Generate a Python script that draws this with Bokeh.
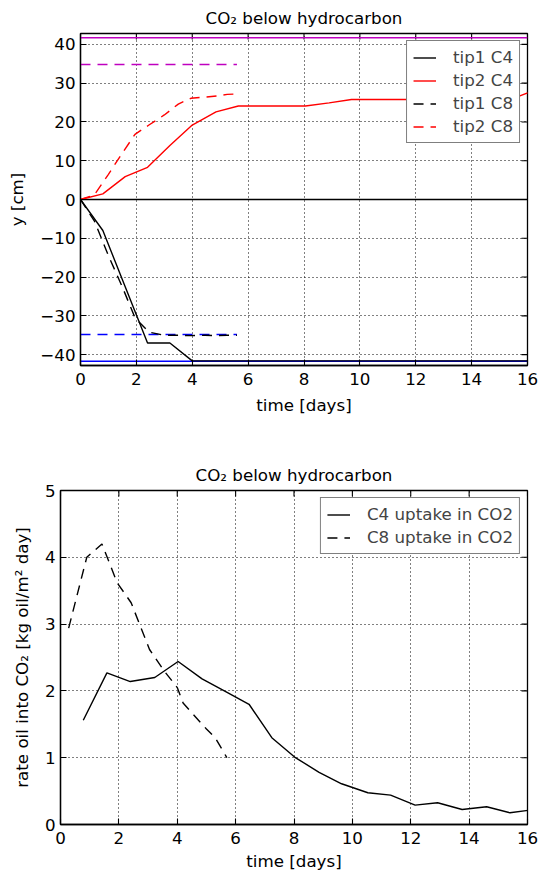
import math
from bokeh.plotting import figure
from bokeh.models import Range1d, FixedTicker, Legend, LegendItem
from bokeh.layouts import column, row
from bokeh.embed import file_html
from bokeh.resources import INLINE

# ---------------- data: top panel (tip positions) ----------------
t_c4 = [0, 0.8, 1.6, 2.4, 3.2, 4.0, 4.85, 5.65, 6.45, 7.25, 8.05, 8.9, 9.7,
        10.5, 11.3, 12.1, 12.9, 13.75, 14.6, 15.4, 16.2]
tip1_c4 = [0, -8.0, -22.5, -37.0, -37.0, -41.6, -41.6, -41.6, -41.6, -41.6, -41.6,
           -41.6, -41.6, -41.6, -41.6, -41.6, -41.6, -41.6, -41.6, -41.6, -41.6]
tip2_c4 = [0, 1.45, 5.9, 8.3, 13.9, 19.2, 22.6, 24.1, 24.1, 24.1, 24.1, 24.9, 25.8,
           25.8, 25.8, 25.8, 25.8, 25.8, 25.8, 25.8, 28.0]

t_c8 = [0, 0.5, 1.0, 1.5, 1.95, 2.45, 3.0, 3.5, 3.95, 4.45, 4.9, 5.25, 5.6]
tip1_c8 = [0, -5.6, -14.5, -22.6, -30.5, -34.2, -35.0, -35.0, -35.1, -35.0, -35.1, -35.0, -35.0]
tip2_c8 = [0, 1.2, 6.5, 12.0, 16.8, 19.2, 21.8, 24.6, 26.1, 26.4, 26.7, 27.1, 27.2]

# reference levels (top/bottom boundaries of domain and of C8 run)
full_x = [0, 16]
c8_x = [0, 5.6]
bound_c4 = 41.7
bound_c8 = 34.8

# ---------------- data: bottom panel (uptake rate) ----------------
t_rate_c4 = [0.78, 1.59, 2.39, 3.23, 4.03, 4.85, 5.66, 6.46, 7.24, 8.02, 8.86, 9.63,
             10.53, 11.31, 12.15, 12.92, 13.76, 14.6, 15.4, 16.2]
rate_c4 = [1.56, 2.27, 2.14, 2.2, 2.44, 2.18, 1.99, 1.8, 1.3, 1.01, 0.78, 0.61,
           0.475, 0.44, 0.29, 0.325, 0.225, 0.265, 0.175, 0.222]
t_rate_c8 = [0.28, 0.9, 1.42, 1.94, 2.42, 3.05, 3.55, 4.0, 4.2, 4.5, 5.0, 5.3, 5.7]
rate_c8 = [2.94, 4.0, 4.2, 3.62, 3.32, 2.62, 2.3, 2.05, 1.82, 1.67, 1.43, 1.3, 1.0]

x_ticks = [0, 2, 4, 6, 8, 10, 12, 14, 16]
y_ticks_top = [-40, -30, -20, -10, 0, 10, 20, 30, 40]
y_ticks_bot = [0, 1, 2, 3, 4, 5]
title_text = "CO\u2082 below hydrocarbon"

FONT = "DejaVu Sans"
FS = "16.7px"
LW = 1.4
DASH = "10 7"


def style(p, yticks, ylabel, xr, yr, xlabel_standoff):
    p.title.text_font = FONT
    p.title.text_font_size = FS
    p.title.text_font_style = "normal"
    p.title.text_color = "black"
    p.title.align = "center"
    p.title.standoff = 11
    p.outline_line_color = "black"
    p.outline_line_width = 1.3
    p.background_fill_color = "white"
    p.border_fill_color = "white"
    for ax in p.xaxis + p.yaxis:
        ax.major_tick_in = 6
        ax.major_tick_out = 0
        ax.minor_tick_in = 0
        ax.minor_tick_out = 0
        ax.axis_line_color = "black"
        ax.axis_line_width = 1.3
        ax.major_tick_line_width = 1.1
        ax.major_label_text_font = FONT
        ax.major_label_text_font_size = FS
        ax.major_label_text_color = "black"
        ax.axis_label_text_font = FONT
        ax.axis_label_text_font_size = FS
        ax.axis_label_text_font_style = "normal"
        ax.axis_label_text_color = "black"
    p.xaxis.major_label_standoff = 7
    p.yaxis.major_label_standoff = 5
    p.xaxis.ticker = FixedTicker(ticks=x_ticks)
    p.yaxis.ticker = FixedTicker(ticks=yticks)
    p.xaxis.axis_label = "time [days]"
    p.xaxis.axis_label_standoff = xlabel_standoff
    p.yaxis.axis_label = ylabel
    p.yaxis.axis_label_standoff = 10
    p.yaxis.major_label_overrides = {v: "\u2212" + str(abs(v)) for v in yticks if v < 0}
    p.grid.grid_line_color = "black"
    p.grid.grid_line_dash = "1 3"
    p.grid.grid_line_width = 1
    p.xgrid.ticker = FixedTicker(ticks=x_ticks)
    p.ygrid.ticker = FixedTicker(ticks=yticks)
    # inward tick marks on the top and right frame edges (half of each dash is clipped)
    p.scatter(x_ticks, [yr[1]] * len(x_ticks), marker="dash", size=12, angle=math.pi / 2,
              line_color="black", line_width=1.1)
    p.scatter([xr[1]] * len(yticks), yticks, marker="dash", size=12,
              line_color="black", line_width=1.1)


def make_legend(items):
    lg = Legend(items=items, location="top_right", margin=7, padding=6, spacing=3,
                label_height=19, glyph_height=19, glyph_width=23, label_standoff=17,
                label_text_font=FONT, label_text_font_size=FS,
                border_line_color="black", border_line_width=1.3,
                background_fill_color="white", background_fill_alpha=1.0)
    return lg


# ---------------- top figure ----------------
xr1, yr1 = (0, 16), (-42.8, 42.8)
p1 = figure(width=546, height=430, frame_width=447, frame_height=332,
            x_range=Range1d(*xr1), y_range=Range1d(*yr1),
            output_backend="svg", toolbar_location=None, title=title_text,
            min_border_left=80, min_border_right=19, min_border_top=32, min_border_bottom=66)
style(p1, y_ticks_top, "y [cm]", xr1, yr1, 7)

p1.line(full_x, [bound_c4, bound_c4], line_color="#bf00bf", line_width=LW)
p1.line(full_x, [-bound_c4, -bound_c4], line_color="#0000ff", line_width=LW)
p1.line(c8_x, [bound_c8, bound_c8], line_color="#bf00bf", line_width=LW, line_dash=DASH)
p1.line(c8_x, [-bound_c8, -bound_c8], line_color="#0000ff", line_width=LW, line_dash=DASH)
p1.line(full_x, [0, 0], line_color="black", line_width=LW)

r1 = p1.line(t_c4, tip1_c4, line_color="black", line_width=LW)
r2 = p1.line(t_c4, tip2_c4, line_color="#ff0000", line_width=LW)
r3 = p1.line(t_c8, tip1_c8, line_color="black", line_width=LW, line_dash=DASH)
r4 = p1.line(t_c8, tip2_c8, line_color="#ff0000", line_width=LW, line_dash=DASH)
p1.add_layout(make_legend([LegendItem(label="tip1 C4", renderers=[r1]),
                           LegendItem(label="tip2 C4", renderers=[r2]),
                           LegendItem(label="tip1 C8", renderers=[r3]),
                           LegendItem(label="tip2 C8", renderers=[r4])]))

# ---------------- bottom figure ----------------
xr2, yr2 = (0, 16), (0, 5)
p2 = figure(width=546, height=447, frame_width=467, frame_height=334,
            x_range=Range1d(*xr2), y_range=Range1d(*yr2),
            output_backend="svg", toolbar_location=None, title=title_text,
            min_border_left=60, min_border_right=19, min_border_top=59, min_border_bottom=54)
style(p2, y_ticks_bot, "rate oil into CO\u2082 [kg oil/m\u00b2 day]", xr2, yr2, 4)

s1 = p2.line(t_rate_c4, rate_c4, line_color="black", line_width=LW)
s2 = p2.line(t_rate_c8, rate_c8, line_color="black", line_width=LW, line_dash=DASH)
p2.add_layout(make_legend([LegendItem(label="C4 uptake in CO2", renderers=[s1]),
                           LegendItem(label="C8 uptake in CO2", renderers=[s2])]))

layout = column(row(p1), row(p2), spacing=0)
open("out.html", "w").write(file_html(layout, INLINE))
